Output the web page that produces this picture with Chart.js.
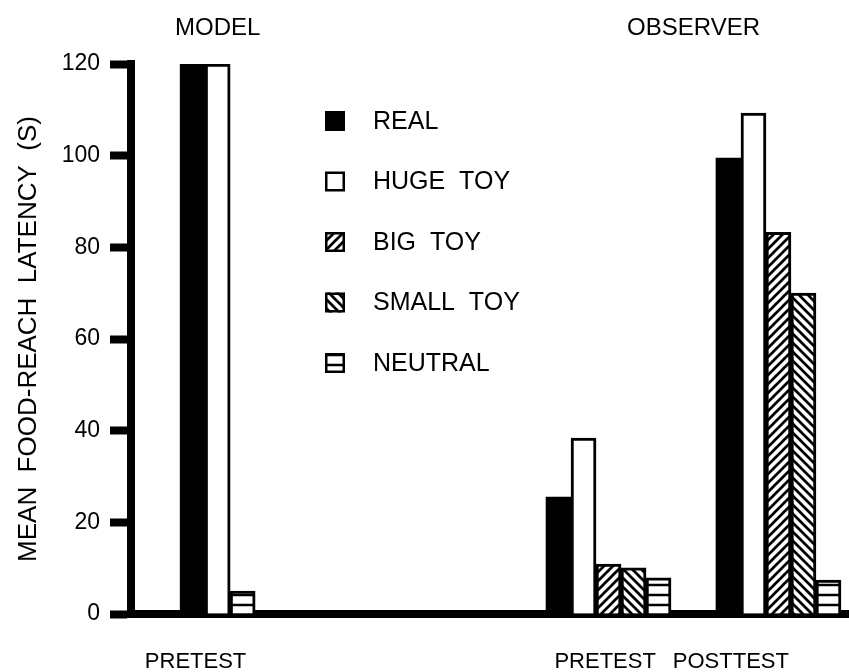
<!DOCTYPE html>
<html>
<head>
<meta charset="utf-8">
<script src="https://cdn.jsdelivr.net/npm/chart.js@4/dist/chart.umd.min.js"></script>
<style>
html, body { margin: 0; padding: 0; background: #fff; }
#wrap { width: 849px; height: 672px; }
</style>
</head>
<body>
<div id="wrap"><canvas id="chart" width="849" height="672"></canvas></div>
<script>
// x slots of the three bar groups: MODEL pretest, OBSERVER pretest, OBSERVER posttest
const groupSlots = [0, 2.3, 3.3];
// where the printed group names sit (they are not centred under the bars)
const labelSlots = [-0.13, 2.28, 3.02];
const groupNames = ['PRETEST', 'PRETEST', 'POSTTEST'];
const panelNames = ['MODEL', 'OBSERVER'];

const seriesNames = ['REAL', 'HUGE  TOY', 'BIG  TOY', 'SMALL  TOY', 'NEUTRAL'];
const realVals    = [120, 25.5, 99.5];
const hugeVals    = [120, 38.4, 109.3];
const bigVals     = [null, 10.9, 83.3];
const smallVals   = [null, 10.1, 70];
const neutralVals = [5, 7.9, 7.4];

const yTicks = [0, 20, 40, 60, 80, 100, 120];

const FONT = "'Liberation Sans', Arial, sans-serif";

const canvas = document.getElementById('chart');
const ctx = canvas.getContext('2d');

// hatch fills like the printed figure
function hatch(kind)
{
    const s = kind === 'h' ? 10 : 9;
    const c = document.createElement('canvas');
    c.width = s; c.height = s;
    const g = c.getContext('2d');
    g.fillStyle = '#fff';
    g.fillRect(0, 0, s, s);
    g.strokeStyle = '#000';
    g.lineWidth = kind === 'h' ? 2.5 : 2.7;
    g.beginPath();
    if (kind === '/') {
        g.moveTo(-1, s + 1); g.lineTo(s + 1, -1);
        g.moveTo(-2, 2); g.lineTo(2, -2);
        g.moveTo(s - 2, s + 2); g.lineTo(s + 2, s - 2);
    } else if (kind === '\\') {
        g.moveTo(-1, -1); g.lineTo(s + 1, s + 1);
        g.moveTo(s - 2, -2); g.lineTo(s + 2, 2);
        g.moveTo(-2, s - 2); g.lineTo(2, s + 2);
    } else {
        g.moveTo(0, 5); g.lineTo(s, 5);
    }
    g.stroke();
    return ctx.createPattern(c, 'repeat');
}

const fills = ['#000', '#fff', hatch('/'), hatch('\\'), hatch('h')];
const values = [realVals, hugeVals, bigVals, smallVals, neutralVals];

const datasets = seriesNames.map((name, i) => ({
    label: name,
    data: values[i],
    backgroundColor: fills[i],
    borderColor: '#000',
    borderWidth: i === 0 ? 0 : 3
}));

// MODEL / OBSERVER headings and the legend column
const extras = {
    id: 'extras',
    afterDraw(chart)
    {
        const c = chart.ctx;
        const x = chart.scales.x;
        c.save();
        c.fillStyle = '#000';
        c.font = '24px ' + FONT;
        c.textAlign = 'center';
        c.textBaseline = 'middle';
        c.fillText(panelNames[0], x.getPixelForValue(groupSlots[0]), 28);
        c.fillText(panelNames[1], x.getPixelForValue((groupSlots[1] + groupSlots[2]) / 2), 28);

        c.textAlign = 'left';
        c.font = '25px ' + FONT;
        chart.data.datasets.forEach((ds, i) => {
            const cy = 121 + i * 60.5;
            c.fillStyle = ds.backgroundColor;
            c.fillRect(325, cy - 10, 20, 20);
            if (i > 0) {
                c.strokeStyle = '#000';
                c.lineWidth = 2.5;
                c.strokeRect(326.25, cy - 8.75, 17.5, 17.5);
            }
            c.fillStyle = '#000';
            c.fillText(ds.label, 373, cy + 1);
        });
        c.restore();
    }
};

new Chart(ctx, {
    type: 'bar',
    data: { labels: groupSlots, datasets: datasets },
    options: {
        responsive: false,
        animation: false,
        layout: { padding: { top: 64, right: 0, bottom: 0, left: 0 } },
        datasets: { bar: { barThickness: 25, skipNull: true } },
        plugins: { legend: { display: false }, tooltip: { enabled: false } },
        scales: {
            x: {
                type: 'linear',
                min: -0.51,
                max: 3.715,
                offset: false,
                grid: { display: false },
                border: { display: true, width: 8, color: '#000' },
                afterBuildTicks: s => { s.ticks = labelSlots.map(v => ({ value: v })); },
                afterFit: s => { s.height = 58; s.paddingLeft = 0; s.paddingRight = 0; },
                ticks: {
                    autoSkip: false,
                    maxRotation: 0,
                    padding: 27,
                    color: '#000',
                    font: { family: FONT, size: 22 },
                    callback: (v, i) => groupNames[i]
                }
            },
            y: {
                min: 0,
                max: 120,
                afterBuildTicks: s => { s.ticks = yTicks.map(v => ({ value: v })); },
                afterFit: s => { s.width = 131; },
                grid: { drawOnChartArea: false, tickLength: 21, tickWidth: 8, tickColor: '#000' },
                border: { display: true, width: 8, color: '#000' },
                ticks: { padding: 10, color: '#000', font: { family: FONT, size: 23 } },
                title: {
                    display: true,
                    text: 'MEAN  FOOD-REACH  LATENCY  (S)',
                    color: '#000',
                    font: { family: FONT, size: 26 },
                    padding: { top: 13, bottom: 0 }
                }
            }
        }
    },
    plugins: [extras]
});
</script>
</body>
</html>
